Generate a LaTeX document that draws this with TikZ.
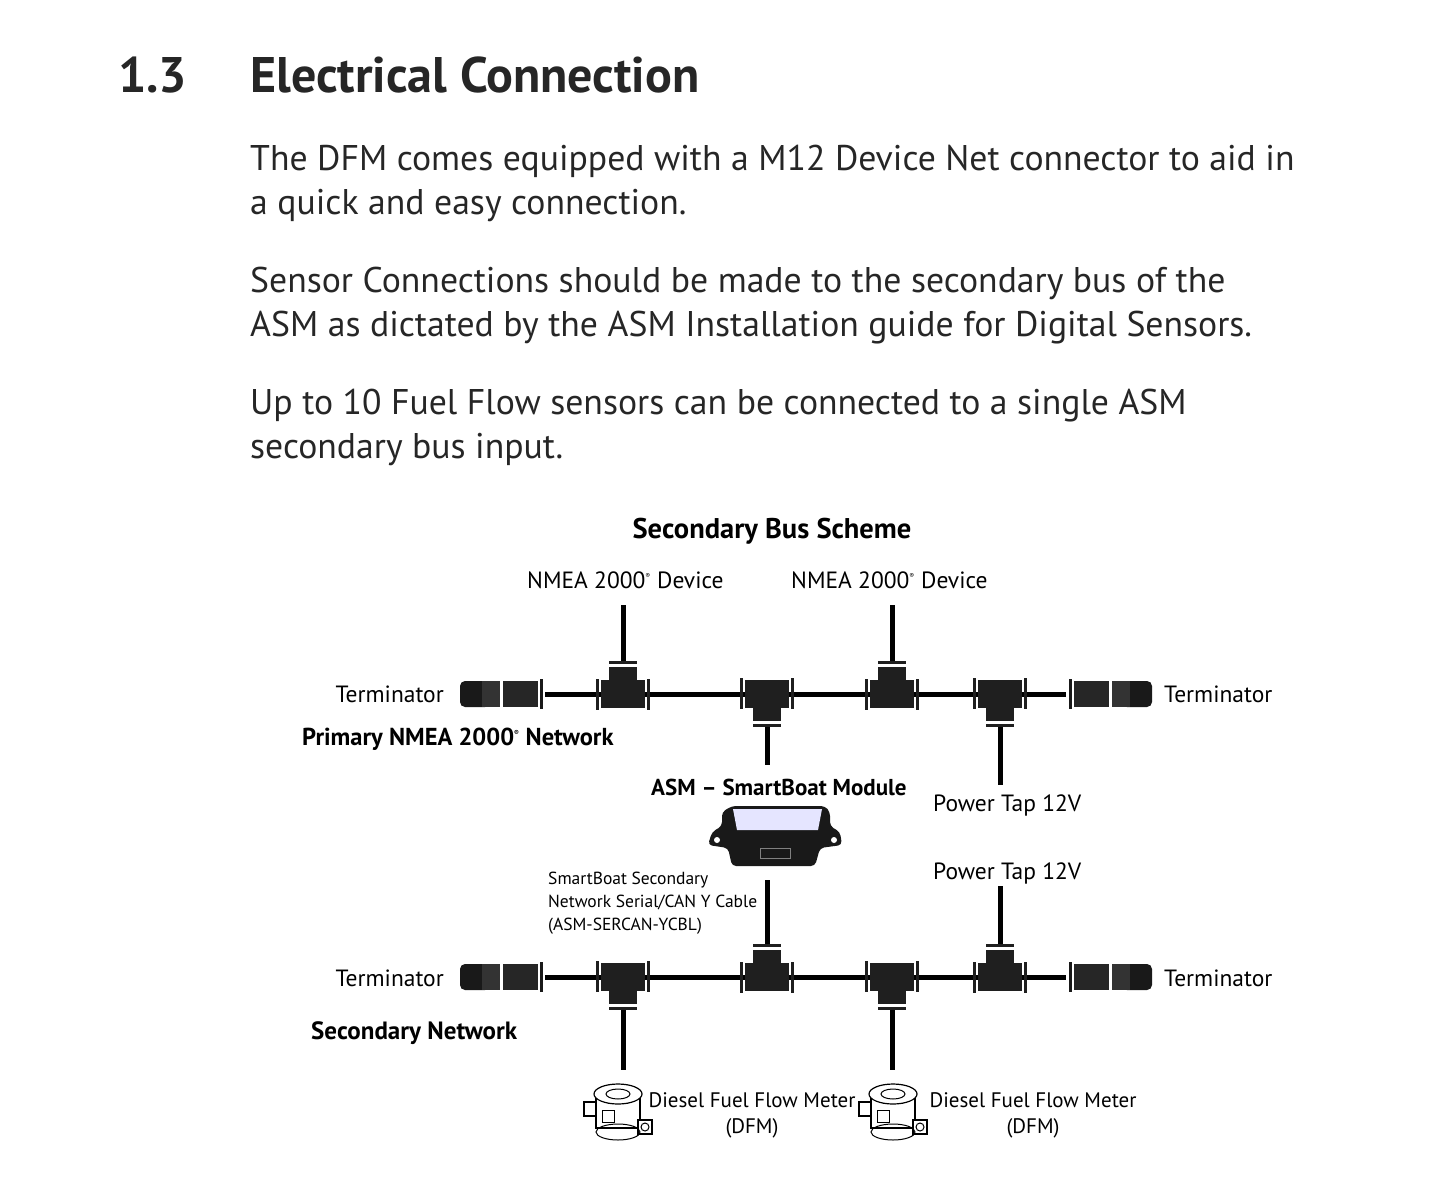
\documentclass[tikz,border=0pt]{standalone}
\usepackage{fontspec}
\setmainfont{PT Sans}
\begin{document}
\begin{tikzpicture}[x=1pt,y=-1pt,
  body/.style={fill=black!88,draw=none},
  wire/.style={line width=5pt,black},
  lbl/.style={anchor=base west,inner sep=0pt,font=\fontsize{23.5}{26}\selectfont},
  blbl/.style={anchor=base west,inner sep=0pt,font=\fontsize{23.5}{26}\selectfont\bfseries},
  para/.style={anchor=base west,inner sep=0pt,font=\fontsize{35.7}{38}\selectfont,text=black!85}]
\useasboundingbox (0,0) rectangle (1445,1186);
\newcommand{\regm}{\textsuperscript{\scriptsize\textregistered}}
\tikzset{
 pics/teeup/.style={code={
   \fill[black!88] (-22,-14) rectangle (22,14);
   \fill[black!88] (-14,-27) rectangle (14,-14);
   \fill[black!88] (-14,-33) rectangle (14,-30);
   \fill[black!88] (-27,-15) rectangle (-24,16);
   \fill[black!88] (24,-15) rectangle (27,16);}},
 pics/teedown/.style={code={
   \fill[black!88] (-22,-14) rectangle (22,14);
   \fill[black!88] (-14,14) rectangle (14,27);
   \fill[black!88] (-14,30) rectangle (14,33);
   \fill[black!88] (-27,-16) rectangle (-24,15);
   \fill[black!88] (24,-16) rectangle (27,15);}},
 pics/termL/.style={code={
   \fill[black!90,rounded corners=5pt] (0,-13) rectangle (30,13);
   \fill[black!80] (22,-13) rectangle (40,13);
   \fill[black!85] (43,-13) rectangle (78,13);
   \fill[black!90] (80,-15) rectangle (83,15);}},
 pics/termR/.style={code={
   \begin{scope}[xscale=-1]
   \fill[black!90,rounded corners=5pt] (0,-13) rectangle (30,13);
   \fill[black!80] (22,-13) rectangle (40,13);
   \fill[black!85] (43,-13) rectangle (78,13);
   \fill[black!90] (80,-15) rectangle (83,15);
   \end{scope}}},
 pics/dfm/.style={code={
   \draw[line width=1.2pt,fill=white] (-22,-16) rectangle (22,18);
   \draw[line width=1.2pt,fill=white] (0,-16) ellipse (24 and 10);
   \draw[line width=1pt] (0,-16) ellipse (12 and 5);
   \draw[line width=1.2pt,fill=white] (20,10) rectangle (34,24);
   \draw[line width=1pt] (27,17) circle (4);
   \draw[line width=1.2pt,fill=white] (-34,-8) rectangle (-22,6);
   \draw[line width=1pt] (-16,0) rectangle (-4,12);
   \draw[line width=1pt] (0,22) ellipse (22 and 8);}}
}
% title and paragraphs
\node[anchor=base west,inner sep=0pt,font=\fontsize{50}{54}\selectfont\bfseries,text=black!85] (num) at (118,92) {1.3};
\node[anchor=base west,inner sep=0pt,font=\fontsize{50}{54}\selectfont\bfseries,text=black!85] (ttl) at (250,92) {Electrical Connection};
\node[para] (p1) at (250,170) {The DFM comes equipped with a M12 Device Net connector to aid in};
\node[para] (p2) at (250,214) {a quick and easy connection.};
\node[para] (p3) at (250,292) {Sensor Connections should be made to the secondary bus of the};
\node[para] (p4) at (250,336) {ASM as dictated by the ASM Installation guide for Digital Sensors.};
\node[para] (p5) at (250,414) {Up to 10 Fuel Flow sensors can be connected to a single ASM};
\node[para] (p6) at (250,458) {secondary bus input.};
\node[anchor=base,inner sep=0pt,font=\fontsize{28.5}{30}\selectfont\bfseries] (sch) at (772,538) {Secondary Bus Scheme};
% labels
\node[lbl] (n1) at (527,588) {NMEA 2000\regm{} Device};
\node[lbl] (n2) at (791,588) {NMEA 2000\regm{} Device};
\node[lbl,anchor=base east] (t1) at (444,702) {Terminator};
\node[lbl] (t2) at (1164,702) {Terminator};
\node[blbl,font=\fontsize{24.5}{26}\selectfont\bfseries] (pn) at (302,745) {Primary NMEA 2000\regm{} Network};
\node[blbl,font=\fontsize{23}{26}\selectfont\bfseries] (asm) at (651,795) {ASM -- SmartBoat Module};
\node[lbl] (pt1) at (933,811) {Power Tap 12V};
\node[lbl] (pt2) at (933,879) {Power Tap 12V};
\node[anchor=base west,inner sep=0pt,font=\fontsize{17.5}{23}\selectfont,align=left] (cab) at (548,930) {SmartBoat Secondary\\Network Serial/CAN  Y Cable\\(ASM-SERCAN-YCBL)};
\node[lbl,anchor=base east] (t3) at (444,986) {Terminator};
\node[lbl] (t4) at (1164,986) {Terminator};
\node[blbl,font=\fontsize{25}{26}\selectfont\bfseries] (sn) at (311,1039) {Secondary Network};
\node[lbl,anchor=base,align=center,font=\fontsize{21}{26}\selectfont] (d1) at (752,1133) {Diesel Fuel Flow Meter\\(DFM)};
\node[lbl,anchor=base,align=center,font=\fontsize{21}{26}\selectfont] (d2) at (1033,1133) {Diesel Fuel Flow Meter\\(DFM)};
% primary bus
\coordinate (a0) at (545,694); \coordinate (a1) at (623,694); \coordinate (a2) at (767,694);
\coordinate (a3) at (892,694); \coordinate (a4) at (1000,694); \coordinate (a5) at (1066,694);
\draw[wire] (a0) -- (a5);
\pic at (460,694) {termL}; \pic at (1152,694) {termR};
\pic at (a1) {teeup}; \pic at (a2) {teedown}; \pic at (a3) {teeup}; \pic at (a4) {teedown};
\coordinate (u1) at (623,605); \coordinate (u3) at (892,605);
\draw[wire] (u1) -- (623,661); \draw[wire] (u3) -- (892,661);
\draw[wire] (767,727) -- (767,765);
\draw[wire] (1000,727) -- (1000,785);
% ASM module
\fill[black!90,rounded corners=4pt] (708,845) -- (712,832) -- (722,826) -- (722,812) -- (732,806) -- (825,806) -- (830,812) -- (830,826) -- (840,832) -- (842,845) -- (820,848) -- (815,866) -- (732,866) -- (728,848) -- cycle;
\fill[blue!10!white] (733,809) -- (822,809) -- (818,830) -- (737,830) -- cycle;
\fill[white] (717,840) circle (3); \fill[white] (834,840) circle (3);
\draw[black!50] (760,848) rectangle (790,858);
% secondary bus
\coordinate (b0) at (545,977); \coordinate (b1) at (623,977); \coordinate (b2) at (767,977);
\coordinate (b3) at (892,977); \coordinate (b4) at (1000,977); \coordinate (b5) at (1066,977);
\draw[wire] (b0) -- (b5);
\pic at (460,977) {termL}; \pic at (1152,977) {termR};
\pic at (b1) {teedown}; \pic at (b2) {teeup}; \pic at (b3) {teedown}; \pic at (b4) {teeup};
\draw[wire] (767,880) -- (767,944);
\draw[wire] (1000,886) -- (1000,944);
\draw[wire] (623,1010) -- (623,1070);
\draw[wire] (892,1010) -- (892,1070);
\pic at (618,1110) {dfm}; \pic at (893,1110) {dfm};
\end{tikzpicture}
\end{document}
